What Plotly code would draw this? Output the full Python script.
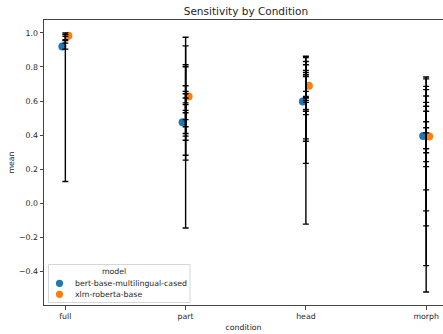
import plotly.graph_objects as go

categories = ["full", "part", "head", "morph"]
models = ["bert-base-multilingual-cased", "xlm-roberta-base"]
colors = ["#1f77b4", "#ff7f0e"]

# mean per condition for each model
bert_mean = [0.920, 0.476, 0.598, 0.394]
xlmr_mean = [0.984, 0.627, 0.690, 0.392]

# per-row error bar lows / highs for each condition
err_low = {
    "full": [0.127, 0.905, 0.940, 0.955],
    "part": [-0.146, 0.253, 0.282, 0.370, 0.394, 0.409, 0.449, 0.491, 0.531, 0.545],
    "head": [-0.123, 0.234, 0.364, 0.378, 0.520, 0.540, 0.550, 0.592, 0.604, 0.618],
    "morph": [-0.522, -0.367, -0.133, -0.045, 0.078, 0.215, 0.244, 0.296, 0.320, 0.413],
}
err_high = {
    "full": [1.000, 0.990, 0.980, 0.960],
    "part": [0.975, 0.924, 0.813, 0.801, 0.690, 0.657, 0.643, 0.618, 0.589, 0.579],
    "head": [0.863, 0.855, 0.832, 0.813, 0.780, 0.768, 0.754, 0.744, 0.657, 0.627],
    "morph": [0.741, 0.730, 0.686, 0.667, 0.630, 0.592, 0.569, 0.540, 0.478, 0.443],
}

dodge = 0.025
FONT = "DejaVu Sans"
FS = 7.8
W, H = 443, 334
ML, MR, MT, MB = 44, 0, 20, 29


def px(x):
    return (x - ML) / (W - ML - MR)


def py(y):
    return (H - MB - y) / (H - MT - MB)


fig = go.Figure()

for k, (name, vals) in enumerate(zip(models, [bert_mean, xlmr_mean])):
    off = -dodge if k == 0 else dodge
    fig.add_trace(go.Scatter(
        x=[i + off for i in range(len(categories))], y=vals,
        mode="markers", name=name, showlegend=False,
        marker=dict(color=colors[k], size=8, line=dict(width=0)),
    ))

for i, c in enumerate(categories):
    lows = err_low[c]
    highs = err_high[c]
    mids = [(a + b) / 2 for a, b in zip(lows, highs)]
    fig.add_trace(go.Scatter(
        x=[i] * len(mids), y=mids, mode="markers", showlegend=False,
        marker=dict(color="rgba(0,0,0,0)", size=1),
        error_y=dict(type="data", symmetric=False,
                     array=[h - m for h, m in zip(highs, mids)],
                     arrayminus=[m - l for m, l in zip(mids, lows)],
                     color="black", thickness=1.4, width=3),
        hoverinfo="skip",
    ))

# legend (matplotlib-style box in lower-left of the axes)
shapes = [dict(type="rect", xref="paper", yref="paper",
               x0=px(48.5), x1=px(190), y0=py(302.5), y1=py(264.5),
               fillcolor="rgba(255,255,255,0.8)", line=dict(color="#d6d6d6", width=1),
               layer="above")]
annotations = [dict(text="model", xref="paper", yref="paper", x=px(114), y=py(271.5),
                    xanchor="center", yanchor="middle", showarrow=False,
                    font=dict(size=FS, family=FONT, color="#262626"))]
for k, name in enumerate(models):
    yy = 283.3 + 11 * k
    shapes.append(dict(type="circle", xref="paper", yref="paper",
                       x0=px(59.5 - 3.6), x1=px(59.5 + 3.6), y0=py(yy + 3.6), y1=py(yy - 3.6),
                       fillcolor=colors[k], line=dict(width=0), layer="above"))
    annotations.append(dict(text=name, xref="paper", yref="paper", x=px(73), y=py(yy),
                            xanchor="left", yanchor="middle", showarrow=False,
                            font=dict(size=FS, family=FONT, color="#262626")))

fig.update_layout(
    width=W, height=H,
    margin=dict(l=ML, r=MR, t=MT, b=MB),
    paper_bgcolor="white", plot_bgcolor="white",
    font=dict(family=FONT, size=FS, color="#262626"),
    title=dict(text="Sensitivity by Condition", x=0.506, xref="paper", xanchor="center",
               y=1 - 11 / H, yref="container", yanchor="middle",
               font=dict(family=FONT, size=10.5, color="#262626")),
    showlegend=False,
    shapes=shapes,
    annotations=annotations,
)

fig.update_xaxes(
    range=[-0.1775, 3.14], tickmode="array",
    tickvals=list(range(len(categories))), ticktext=categories,
    showgrid=False, zeroline=False,
    showline=True, linecolor="#444", linewidth=1, mirror=True,
    ticks="outside", ticklen=3.5, tickcolor="#444", tickwidth=1,
    title=dict(text="condition", standoff=4, font=dict(size=FS)),
    automargin=False,
)
fig.update_yaxes(
    range=[-0.598, 1.076], tickmode="array",
    tickvals=[-0.4, -0.2, 0.0, 0.2, 0.4, 0.6, 0.8, 1.0], tickformat=".1f",
    showgrid=False, zeroline=False,
    showline=True, linecolor="#444", linewidth=1,
    ticks="outside", ticklen=3.5, tickcolor="#444", tickwidth=1,
    title=dict(text="mean", standoff=3, font=dict(size=FS)),
    automargin=False,
)

fig.write_html(
    "out.html",
    config={"displayModeBar": False},
    post_script="document.body.style.margin='0';document.body.style.overflow='hidden';",
)
